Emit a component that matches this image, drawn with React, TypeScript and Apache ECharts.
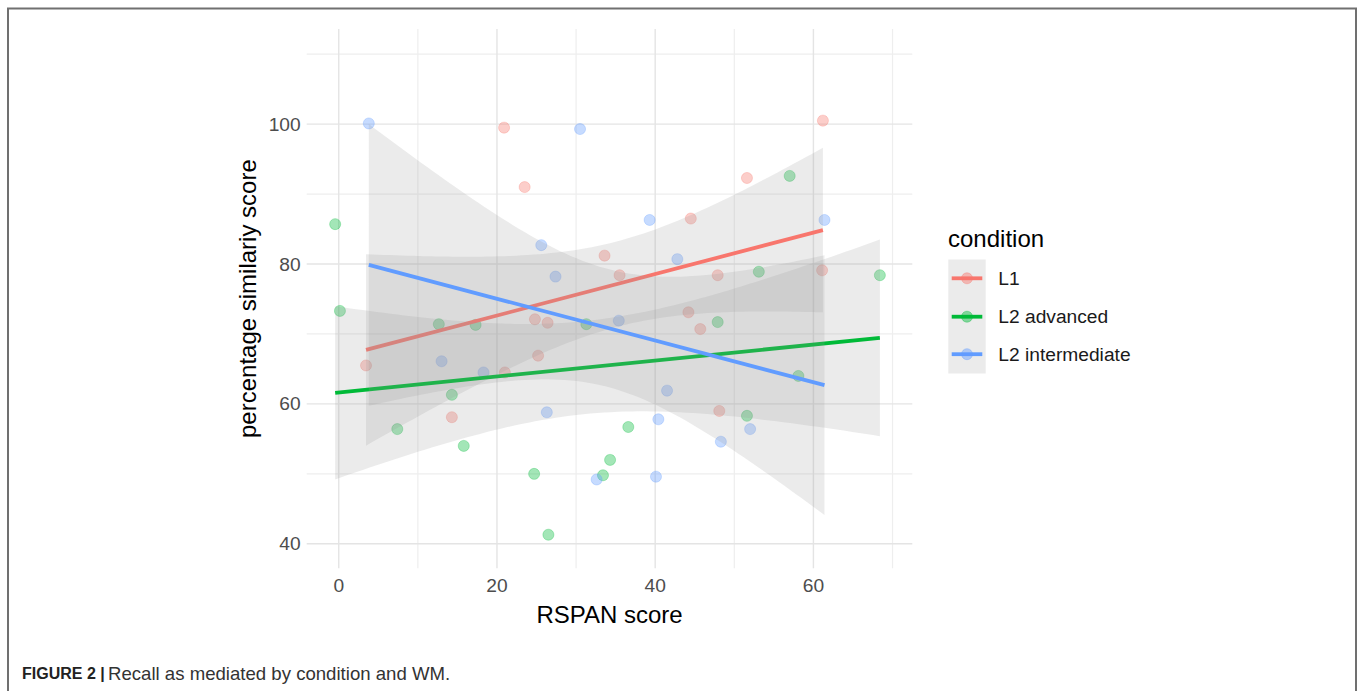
import React, { useEffect, useRef } from "react";
import * as echarts from "echarts";

const CATEGORIES = ["L1", "L2 advanced", "L2 intermediate"];
const COLORS = ["#F8766D", "#00BA38", "#619CFF"];
const COLORS_RGB = ["248,118,109", "0,186,56", "97,156,255"];

const L1_X = [20.9, 23.5, 61.2, 51.6, 44.5, 33.6, 35.5, 47.9, 61.1, 44.2, 45.7, 24.8, 26.4, 3.45, 21.0, 25.2, 14.3, 48.1];
const L1_Y = [99.5, 91.0, 100.5, 92.3, 86.5, 81.2, 78.4, 78.4, 79.1, 73.1, 70.7, 72.1, 71.6, 65.5, 64.5, 66.9, 58.1, 59.0];

const L2A_X = [-0.45, 0.15, 12.65, 17.3, 31.3, 57.0, 53.1, 68.4, 47.9, 14.3, 7.4, 15.8, 24.7, 26.5, 58.1, 51.6, 36.6, 34.3, 33.4];
const L2A_Y = [85.7, 73.3, 71.4, 71.3, 71.4, 92.6, 78.9, 78.4, 71.7, 61.3, 56.4, 54.0, 50.0, 41.3, 64.0, 58.3, 56.7, 52.0, 49.8];

const L2I_X = [3.8, 30.5, 25.6, 27.4, 39.3, 61.4, 42.8, 35.4, 13.0, 18.3, 26.3, 32.6, 41.5, 52.0, 40.4, 48.3, 40.1];
const L2I_Y = [100.1, 99.3, 82.7, 78.2, 86.3, 86.3, 80.7, 71.9, 66.1, 64.5, 58.8, 49.2, 61.9, 56.4, 57.8, 54.6, 49.6];

const X_TICKS = [0, 20, 40, 60];
const X_MINOR = [10, 30, 50, 70];
const Y_TICKS = [40, 60, 80, 100];
const Y_MINOR = [50, 70, 90, 110];

const X_MIN = -4.05;
const X_MAX = 72.5;
const Y_MIN = 36.5;
const Y_MAX = 113.6;

// Student t 97.5% quantiles by degrees of freedom
const T975: Record<number, number> = { 14: 2.145, 15: 2.131, 16: 2.12, 17: 2.11, 18: 2.101, 19: 2.093 };

const FONT = "'Liberation Sans', Arial, Helvetica, sans-serif";

function lmFit(xs: number[], ys: number[]) {
  const n = xs.length;
  const mx = xs.reduce((a, b) => a + b, 0) / n;
  const my = ys.reduce((a, b) => a + b, 0) / n;
  let sxx = 0;
  let sxy = 0;
  for (let i = 0; i < n; i++) {
    sxx += (xs[i] - mx) ** 2;
    sxy += (xs[i] - mx) * (ys[i] - my);
  }
  const b = sxy / sxx;
  const a = my - b * mx;
  let sse = 0;
  for (let i = 0; i < n; i++) sse += (ys[i] - a - b * xs[i]) ** 2;
  const s = Math.sqrt(sse / (n - 2));
  const t = T975[n - 2] || 2.1;
  const x0 = Math.min(...xs);
  const x1 = Math.max(...xs);
  const N = 80;
  const band: number[][] = [];
  for (let i = 0; i < N; i++) {
    const x = x0 + ((x1 - x0) * i) / (N - 1);
    const yh = a + b * x;
    const se = s * Math.sqrt(1 / n + (x - mx) ** 2 / sxx);
    band.push([x, yh - t * se, yh + t * se]);
  }
  return { line: [[x0, a + b * x0], [x1, a + b * x1]], band };
}

export default function App() {
  const ref = useRef<HTMLDivElement>(null);

  useEffect(() => {
    if (!ref.current) return;
    const chart = echarts.init(ref.current, null, { renderer: "svg" });
    const groups = [
      { x: L1_X, y: L1_Y },
      { x: L2A_X, y: L2A_Y },
      { x: L2I_X, y: L2I_Y },
    ];

    const gridData: number[][] = [];
    X_MINOR.forEach((v) => gridData.push([0, v, 0]));
    Y_MINOR.forEach((v) => gridData.push([1, v, 0]));
    X_TICKS.forEach((v) => gridData.push([0, v, 1]));
    Y_TICKS.forEach((v) => gridData.push([1, v, 1]));

    const series: any[] = [
      {
        type: "custom",
        z: 0,
        silent: true,
        data: gridData,
        renderItem: (params: any, api: any) => {
          const kind = api.value(0);
          const v = api.value(1);
          const major = api.value(2);
          const p1 = kind === 0 ? api.coord([v, Y_MIN]) : api.coord([X_MIN, v]);
          const p2 = kind === 0 ? api.coord([v, Y_MAX]) : api.coord([X_MAX, v]);
          return {
            type: "line",
            shape: { x1: p1[0], y1: p1[1], x2: p2[0], y2: p2[1] },
            style: { stroke: major ? "#e4e4e4" : "#eeeeee", lineWidth: major ? 1.4 : 1.2 },
          };
        },
      },
    ];

    groups.forEach((g, i) => {
      series.push({
        type: "scatter",
        name: CATEGORIES[i],
        z: 1,
        symbolSize: 11,
        data: g.x.map((x, k) => [x, g.y[k]]),
        itemStyle: {
          color: `rgba(${COLORS_RGB[i]},0.45)`,
          borderColor: `rgba(${COLORS_RGB[i]},0.35)`,
          borderWidth: 1,
        },
      });
    });

    groups.forEach((g, i) => {
      const f = lmFit(g.x, g.y);
      series.push({
        type: "custom",
        z: 2 + i * 2,
        silent: true,
        data: f.band,
        encode: { x: 0, y: [1, 2] },
        renderItem: (params: any, api: any) => {
          if (params.dataIndex !== 0) return null;
          const upper = f.band.map((p) => api.coord([p[0], p[2]]));
          const lower = f.band.map((p) => api.coord([p[0], p[1]])).reverse();
          return {
            type: "polygon",
            shape: { points: upper.concat(lower) },
            style: { fill: "rgba(153,153,153,0.2)" },
          };
        },
      });
      series.push({
        type: "line",
        z: 3 + i * 2,
        silent: true,
        symbol: "none",
        data: f.line,
        lineStyle: { color: COLORS[i], width: 3.8 },
      });
    });

    const legendY = [278.3, 316.7, 354.2];
    const graphic: any[] = [
      {
        type: "rect",
        shape: { x: 8, y: 8.5, width: 1348, height: 800 },
        style: { fill: "none", stroke: "#707070", lineWidth: 2 },
        silent: true,
      },
      {
        type: "text",
        x: 609.5,
        y: 614,
        style: { text: "RSPAN score", font: `24px ${FONT}`, fill: "#000", textAlign: "center", textVerticalAlign: "middle" },
      },
      {
        type: "text",
        x: 247.5,
        y: 298.6,
        rotation: Math.PI / 2,
        style: { text: "percentage similariy score", font: `24px ${FONT}`, fill: "#000", textAlign: "center", textVerticalAlign: "middle" },
      },
      {
        type: "text",
        x: 948,
        y: 238.5,
        style: { text: "condition", font: `24px ${FONT}`, fill: "#000", textAlign: "left", textVerticalAlign: "middle" },
      },
      {
        type: "rect",
        shape: { x: 948.3, y: 259.5, width: 37.4, height: 114 },
        style: { fill: "#ebebeb" },
      },
      {
        type: "text",
        x: 22,
        y: 673,
        style: {
          text: "{b|FIGURE 2 |} {r|Recall as mediated by condition and WM.}",
          textVerticalAlign: "middle",
          rich: {
            b: { font: `bold 16px ${FONT}`, fill: "#222" },
            r: { font: `18.6px ${FONT}`, fill: "#333" },
          },
        },
      },
    ];
    CATEGORIES.forEach((c, i) => {
      graphic.push({
        type: "line",
        shape: { x1: 951.7, y1: legendY[i], x2: 982.3, y2: legendY[i] },
        style: { stroke: COLORS[i], lineWidth: 3.8 },
      });
      graphic.push({
        type: "circle",
        shape: { cx: 967, cy: legendY[i], r: 5.5 },
        style: { fill: `rgba(${COLORS_RGB[i]},0.45)`, stroke: `rgba(${COLORS_RGB[i]},0.35)`, lineWidth: 1 },
      });
      graphic.push({
        type: "text",
        x: 998.3,
        y: legendY[i],
        style: { text: c, font: `19.2px ${FONT}`, fill: "#1a1a1a", textAlign: "left", textVerticalAlign: "middle" },
      });
    });

    chart.setOption({
      animation: false,
      backgroundColor: "#ffffff",
      grid: { left: 306.7, right: 1360 - 912.3, top: 29, bottom: 691 - 568.3, containLabel: false },
      xAxis: {
        type: "value",
        min: X_MIN,
        max: X_MAX,
        axisLine: { show: false },
        axisTick: { show: false },
        splitLine: { show: false },
        axisLabel: { customValues: X_TICKS, color: "#4d4d4d", fontSize: 19.2, fontFamily: FONT, margin: 8 },
      },
      yAxis: {
        type: "value",
        min: Y_MIN,
        max: Y_MAX,
        axisLine: { show: false },
        axisTick: { show: false },
        splitLine: { show: false },
        axisLabel: { customValues: Y_TICKS, color: "#4d4d4d", fontSize: 19.2, fontFamily: FONT, margin: 6 },
      },
      series,
      graphic,
    });
    return () => chart.dispose();
  }, []);

  return <div ref={ref} style={{ position: "absolute", left: 0, top: 0, width: 1360, height: 691 }} />;
}
